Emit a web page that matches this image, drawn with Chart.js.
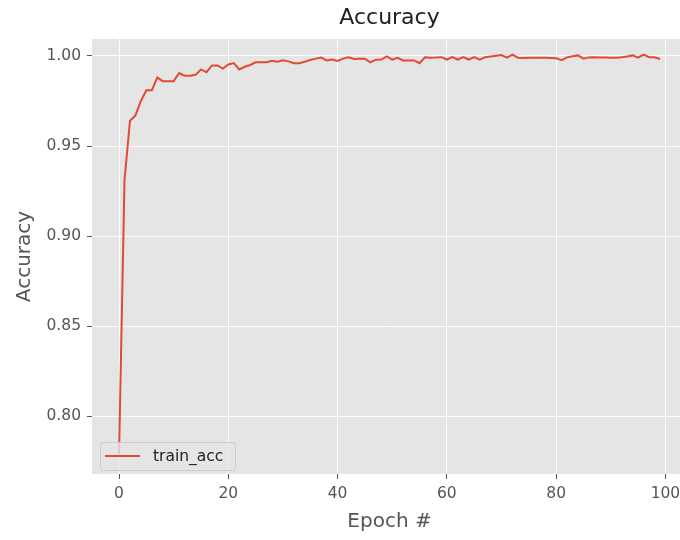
<!DOCTYPE html>
<html><head><meta charset="utf-8">
<script src="https://cdn.jsdelivr.net/npm/chart.js@4/dist/chart.umd.min.js"></script>
<style>html,body{margin:0;padding:0;background:#fff;overflow:hidden;width:680px;height:540px}</style>
</head><body>
<canvas id="c" width="700" height="540" style="width:700px;height:540px;display:block"></canvas>
<script>
const chartTitle = "Accuracy";
const xAxisTitle = "Epoch #";
const yAxisTitle = "Accuracy";
const seriesLabel = "train_acc";
const xTicks = [0, 20, 40, 60, 80, 100];
const yTicks = [0.80, 0.85, 0.90, 0.95, 1.00];
const trainAcc = [
  0.779, 0.931, 0.964, 0.967, 0.975, 0.981, 0.981, 0.988, 0.986, 0.986,
  0.986, 0.9905, 0.989, 0.989, 0.9895, 0.9925, 0.991, 0.9947, 0.9947, 0.993,
  0.9953, 0.996, 0.9925, 0.994, 0.995, 0.9965, 0.9965, 0.9965, 0.9973, 0.9968,
  0.9976, 0.997, 0.996, 0.996, 0.9968, 0.9978, 0.9985, 0.9991, 0.9975, 0.998,
  0.9972, 0.9985, 0.9993, 0.9983, 0.9984, 0.9985, 0.9964, 0.9979, 0.998, 0.9997,
  0.9979, 0.999, 0.9975, 0.9975, 0.9975, 0.996, 0.9993, 0.999, 0.9991, 0.9993,
  0.998, 0.9993, 0.998, 0.9993, 0.998, 0.9993, 0.9979, 0.9993, 0.9997, 1.0001,
  1.0005, 0.999, 1.0007, 0.999, 0.9989, 0.999, 0.999, 0.999, 0.999, 0.9989,
  0.9987, 0.9977, 0.9992, 0.9998, 1.0003, 0.9985, 0.9992, 0.9993, 0.9992, 0.9991,
  0.999, 0.999, 0.9993, 0.9997, 1.0003, 0.999, 1.0007, 0.9993, 0.9993, 0.9983
];

const points = trainAcc.map((v, i) => ({x: i, y: v}));
const FONT = "'DejaVu Sans', sans-serif";

const bgPlugin = {
  id: 'bg',
  beforeDraw(chart) {
    const {ctx, chartArea: a} = chart;
    ctx.save();
    ctx.fillStyle = '#E5E5E5';
    ctx.fillRect(a.left, a.top, a.right - a.left, a.bottom - a.top);
    ctx.restore();
  },
  afterDraw(chart) {
    const {ctx, chartArea: a} = chart;
    ctx.save();
    // title
    ctx.fillStyle = '#222';
    ctx.font = "22px " + FONT;
    ctx.textAlign = 'center';
    ctx.textBaseline = 'middle';
    ctx.fillText(chartTitle, (a.left + a.right) / 2, 18);
    // legend
    const ds = chart.data.datasets[0];
    const bx = a.left + 8, by = a.bottom - 32, bw = 135, bh = 28;
    ctx.globalAlpha = 0.8;
    ctx.fillStyle = '#E5E5E5';
    ctx.strokeStyle = '#CCCCCC';
    ctx.lineWidth = 1;
    ctx.beginPath();
    ctx.roundRect(bx + 0.5, by + 0.5, bw, bh, 3);
    ctx.fill();
    ctx.globalAlpha = 1;
    ctx.stroke();
    ctx.strokeStyle = ds.borderColor;
    ctx.lineWidth = 2;
    ctx.beginPath();
    ctx.moveTo(bx + 5, by + 14);
    ctx.lineTo(bx + 40, by + 14);
    ctx.stroke();
    ctx.fillStyle = '#222';
    ctx.font = "15.5px " + FONT;
    ctx.textAlign = 'left';
    ctx.textBaseline = 'middle';
    ctx.fillText(ds.label, bx + 53, by + 15);
    ctx.restore();
  }
};

new Chart(document.getElementById('c'), {
  type: 'line',
  data: {
    datasets: [{
      label: seriesLabel,
      data: points,
      borderColor: '#E24A33',
      backgroundColor: '#E24A33',
      borderWidth: 2,
      pointRadius: 0,
      tension: 0,
      fill: false
    }]
  },
  options: {
    responsive: false,
    animation: false,
    layout: {padding: {top: 39, right: 13, left: 0, bottom: 0}},
    plugins: {legend: {display: false}, title: {display: false}, tooltip: {enabled: false}},
    scales: {
      x: {
        type: 'linear',
        min: -4.95, max: 103.95,
        afterBuildTicks(s) { s.ticks = xTicks.map(v => ({value: v})); },
        afterFit(s) { s.height = 66; },
        border: {display: false},
        grid: {color: '#FFFFFF', lineWidth: 1, tickColor: '#555555', tickLength: 5, drawTicks: true},
        ticks: {color: '#555555', font: {family: FONT, size: 15.5}, padding: 6, maxRotation: 0,
                callback: v => String(v)},
        title: {display: true, text: xAxisTitle, color: '#555555', font: {family: FONT, size: 20},
                padding: {top: 0, bottom: 6}}
      },
      y: {
        type: 'linear',
        min: 0.768, max: 1.0094,
        afterBuildTicks(s) { s.ticks = yTicks.map(v => ({value: v})); },
        afterFit(s) { s.width = 92; },
        border: {display: false},
        grid: {color: '#FFFFFF', lineWidth: 1, tickColor: '#555555', tickLength: 5, drawTicks: true},
        ticks: {color: '#555555', font: {family: FONT, size: 15.5}, padding: 6,
                callback: v => Number(v).toFixed(2)},
        title: {display: true, text: yAxisTitle, color: '#555555', font: {family: FONT, size: 20},
                padding: {top: 13, bottom: 0}}
      }
    }
  },
  plugins: [bgPlugin]
});
</script>
</body></html>
